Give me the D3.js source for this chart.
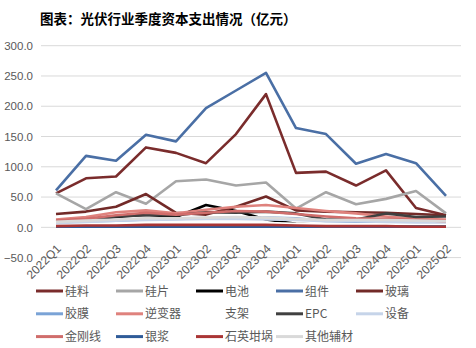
<!DOCTYPE html>
<html>
<head>
<meta charset="utf-8">
<script src="https://cdn.jsdelivr.net/npm/d3@7"></script>
<style>
  html, body { margin: 0; padding: 0; background: #fff; }
  svg { display: block; }
</style>
</head>
<body>
<svg id="chart" width="476" height="348"></svg>
<script>
// Quarterly capital expenditure of PV industry segments (亿元)
const quarters = ["2022Q1","2022Q2","2022Q3","2022Q4","2023Q1","2023Q2","2023Q3","2023Q4",
                  "2024Q1","2024Q2","2024Q3","2024Q4","2025Q1","2025Q2"];
const yTicks = [-50, 0, 50, 100, 150, 200, 250, 300];

const polysilicon = [56, 81, 84, 132, 123, 106, 154, 220, 90, 92, 69, 94, 32, 20];
const wafer       = [56, 30, 58, 39, 76, 79, 69, 74, 31, 58, 38, 47, 60, 23];
const cell        = [9, 12, 17, 21, 17, 37, 27, 13, 6, 4, 4, 4, 3, 3];
const module_     = [61, 118, 110, 153, 142, 197, 226, 255, 164, 154, 105, 121, 106, 52];
const glass       = [22, 26, 34, 55, 24, 21, 34, 51, 28, 26, 25, 24, 22, 20];
const film        = [8, 9, 11, 13, 14, 15, 15, 16, 15, 10, 9, 9, 10, 8];
const inverter    = [13, 17, 25, 28, 23, 29, 34, 37, 32, 27, 23, 18, 14, 13];
const bracket     = [5, 6, 6, 7, 7, 7, 7, 7, 6, 6, 5, 5, 5, 5];
const epc         = [10, 13, 18, 20, 20, 25, 24, 26, 23, 13, 13, 23, 17, 18];
const equipment   = [7, 9, 11, 12, 13, 14, 14, 13, 12, 10, 10, 9, 8, 8];
const diamondWire = [11, 14, 20, 24, 21, 24, 27, 26, 22, 18, 15, 14, 12, 10];
const silverPaste = [1, 1, 1, 1, 1, 1, 1, 1, 1, 1, 1, 1, 1, 1];
const crucible    = [2, 3, 3, 4, 4, 4, 4, 4, 3, 2, 2, 2, 1, 1];
const otherAux    = [9, 11, 13, 15, 15, 16, 17, 16, 14, 12, 12, 12, 11, 10];

const seriesNames  = ["硅料","硅片","电池","组件","玻璃","胶膜","逆变器","支架","EPC","设备","金刚线","银浆","石英坩埚","其他辅材"];
const seriesValues = [polysilicon, wafer, cell, module_, glass, film, inverter, bracket, epc, equipment, diamondWire, silverPaste, crucible, otherAux];
const seriesColors = ["#7a2c2c","#a6a6a6","#000000","#4a6fa5","#722a28","#7aa3d6","#df827d","#ffffff","#404040","#c6d4e9","#d06d6b","#2f5b98","#aa3535","#d9d9d9"];

const svg = d3.select("#chart");
const margin = {left: 41, right: 461, top: 45.7, bottom: 257.6};

const x = d3.scalePoint().domain(quarters).range([margin.left, margin.right]).padding(0.5);
const y = d3.scaleLinear().domain([-50, 300]).range([margin.bottom, margin.top]);

// Title
svg.append("text")
  .attr("x", 40).attr("y", 24)
  .attr("font-family", "'Noto Sans CJK SC', sans-serif")
  .attr("font-size", 13.5).attr("font-weight", "bold").attr("fill", "#000")
  .text("图表：光伏行业季度资本支出情况（亿元）");

// Gridlines
svg.append("g")
  .selectAll("line").data(yTicks).join("line")
  .attr("x1", margin.left).attr("x2", margin.right)
  .attr("y1", d => y(d)).attr("y2", d => y(d))
  .attr("stroke", "#d9d9d9").attr("stroke-width", 1);

// Y axis
const yAxis = svg.append("g")
  .attr("transform", `translate(${margin.left - 4},0)`)
  .call(d3.axisLeft(y).tickValues(yTicks).tickSize(0).tickFormat(d3.format(".1f")));
yAxis.select(".domain").remove();
yAxis.selectAll("text")
  .attr("font-family", "'Liberation Sans', Arial, sans-serif")
  .attr("font-size", 11.5).attr("fill", "#595959").attr("dx", "-1");

// X axis labels (rotated)
const xAxis = svg.append("g")
  .attr("transform", `translate(0,${y(0)})`)
  .call(d3.axisBottom(x).tickSize(0));
xAxis.select(".domain").remove();
xAxis.selectAll("text")
  .attr("font-family", "'Liberation Sans', Arial, sans-serif")
  .attr("font-size", 12).attr("fill", "#595959")
  .attr("text-anchor", "end")
  .attr("dy", "0")
  .attr("transform", "translate(3,20) rotate(-45)");

// Lines
const line = d3.line().x((d, i) => x(quarters[i])).y(d => y(d));
svg.append("g")
  .selectAll("path").data(seriesValues).join("path")
  .attr("d", d => line(d))
  .attr("fill", "none")
  .attr("stroke", (d, i) => seriesColors[i])
  .attr("stroke-width", 2.6)
  .attr("stroke-linejoin", "round");

// Legend
const legend = svg.append("g");
const items = legend.selectAll("g").data(seriesNames).join("g")
  .attr("transform", (d, i) => `translate(${36 + (i % 5) * 80},${291 + Math.floor(i / 5) * 22.8})`);
items.append("line")
  .attr("x1", 0).attr("x2", 27).attr("y1", 0).attr("y2", 0)
  .attr("stroke", (d, i) => seriesColors[i]).attr("stroke-width", 3);
items.append("text")
  .attr("x", 29).attr("y", 4.5)
  .attr("font-family", "'Noto Sans CJK SC', sans-serif")
  .attr("font-size", 12).attr("fill", "#595959")
  .text(d => d);
</script>
</body>
</html>
